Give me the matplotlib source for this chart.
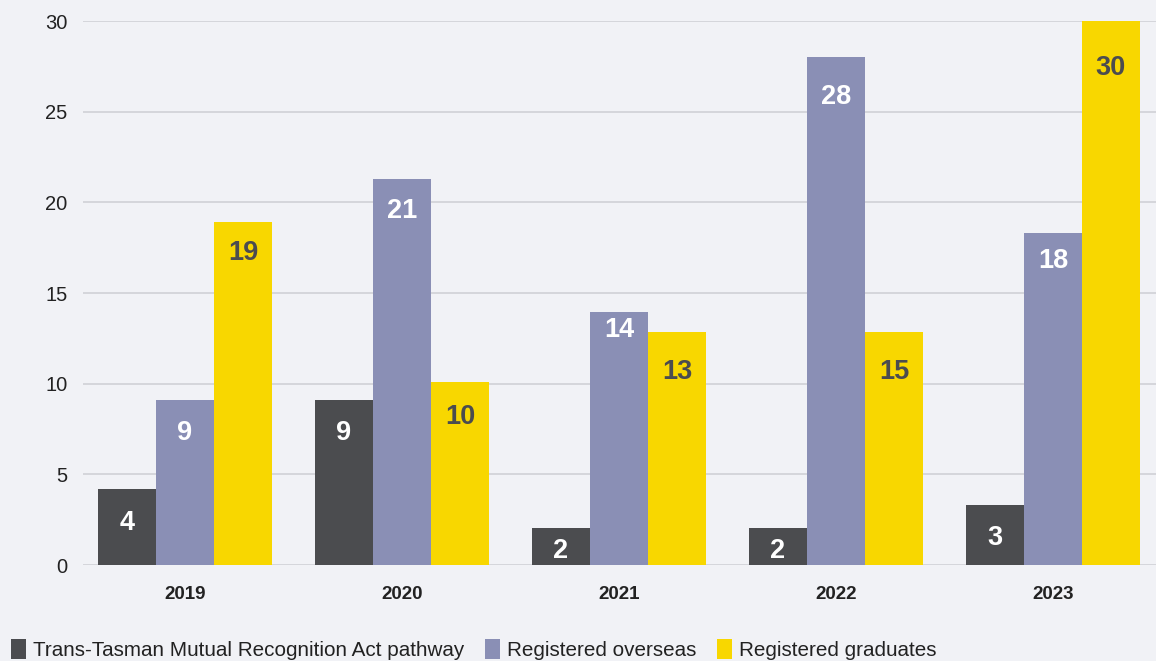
import numpy as np
import matplotlib.pyplot as plt
from matplotlib.patches import Patch

plt.rcParams['font.family'] = ['Liberation Sans', 'DejaVu Sans']

years = ['2019', '2020', '2021', '2022', '2023']
series_names = ['Trans-Tasman Mutual Recognition Act pathway',
                'Registered overseas', 'Registered graduates']
# bar heights as drawn in the chart
tasman_heights = [4.2, 9.1, 2.05, 2.05, 3.3]
overseas_heights = [9.1, 21.3, 13.95, 28.0, 18.3]
graduates_heights = [18.9, 10.1, 12.85, 12.85, 30.05]
# printed data labels
tasman_labels = [4, 9, 2, 2, 3]
overseas_labels = [9, 21, 14, 28, 18]
graduates_labels = [19, 10, 13, 15, 30]

# where each printed label sits (y in data units), layout only
label_y = [
    [2.32, 7.28, 0.78, 0.78, 1.49],
    [7.28, 19.5, 12.96, 25.8, 16.77],
    [17.2, 8.16, 10.65, 10.65, 27.4],
]

bg = '#f1f2f6'
colors = ['#4b4c4f', '#8a8fb5', '#f8d700']
label_colors = ['white', 'white', '#4b4c4f']

fig = plt.figure(figsize=(11.56, 6.61), dpi=100, facecolor=bg)
ax = fig.add_axes([0.0718, 0.1452, 0.9282, 0.823])
ax.set_facecolor(bg)
ax.set_ylim(0, 30)
ax.set_xlim(-0.47, 4.475)

x = np.arange(len(years))
w = 0.267
heights = [tasman_heights, overseas_heights, graduates_heights]
labels = [tasman_labels, overseas_labels, graduates_labels]
for i in range(3):
    pos = x + (i - 1) * w
    ax.bar(pos, heights[i], width=w, color=colors[i], zorder=3)
    for xp, ly, lab in zip(pos, label_y[i], labels[i]):
        ax.text(xp, ly, str(lab), ha='center', va='center', fontsize=19.5,
                fontweight='bold', color=label_colors[i], zorder=4)

ax.set_yticks([0, 5, 10, 15, 20, 25, 30])
ax.set_xticks(x)
ax.set_xticklabels(years, fontweight='bold', fontsize=13.5)
ax.tick_params(axis='y', length=0, pad=11, labelsize=14.5, labelcolor='#222222')
ax.tick_params(axis='x', length=0, pad=15, labelcolor='#222222')
ax.grid(axis='y', color='#d3d4d9', linewidth=1.3, zorder=0)
for s in ax.spines.values():
    s.set_visible(False)

handles = [Patch(facecolor=c, label=n) for c, n in zip(colors, series_names)]
fig.legend(handles=handles, loc='lower left', bbox_to_anchor=(-0.0065, -0.027),
           ncol=3, frameon=False, fontsize=14.85, handlelength=0.72, handleheight=1.1,
           handletextpad=0.35, columnspacing=1.0, labelcolor='#222222')

fig.savefig('out.png', dpi=100, facecolor=bg)
